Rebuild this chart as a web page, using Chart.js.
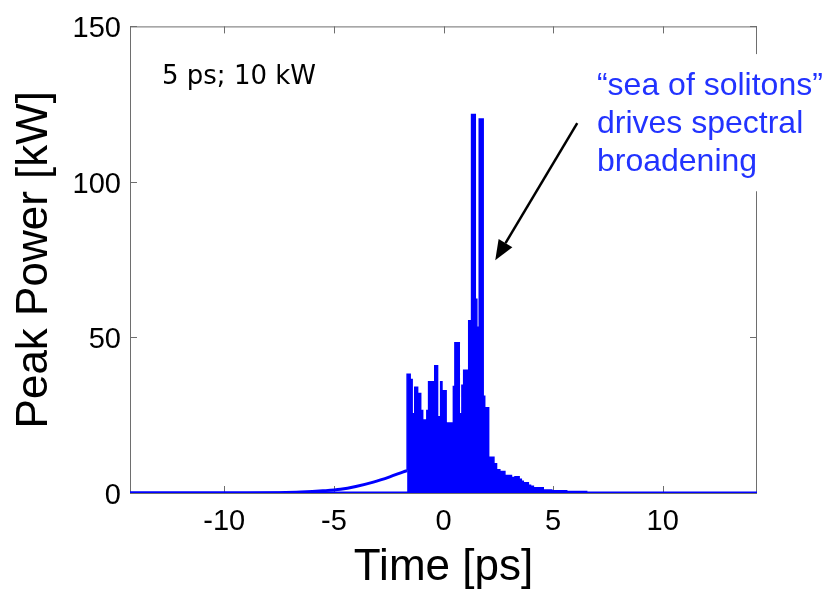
<!DOCTYPE html>
<html>
<head>
<meta charset="utf-8">
<script src="https://cdn.jsdelivr.net/npm/chart.js@4/dist/chart.umd.min.js"></script>
<style>
  html, body { margin: 0; padding: 0; background: #ffffff; }
  #wrap { width: 833px; height: 595px; }
</style>
</head>
<body>
<div id="wrap"><canvas id="c" width="833" height="595"></canvas></div>
<script>
// ---- data ----
const timeWindow = [-14.3, 14.3];          // ps
const xTickValues = [-10, -5, 0, 5, 10];
const yTickValues = [0, 50, 100, 150];

// smooth pedestal (remnant of the input pulse), kW
const pedestalTime  = [-14.3, -9.0, -7.5, -6.5, -5.5, -4.7, -4.0, -3.2, -2.45, -1.83, -1.66];
const pedestalPower = [0,      0,    0.1,  0.3,  0.7,  1.2,  2.1,  3.5,  5.2,   6.8,   7.2];

// upper envelope of the soliton burst (step-wise), kW
const burstTime  = [-1.66, -1.66, -1.52, -1.43, -1.31, -1.18, -1.04, -0.95, -0.76, -0.68, -0.40, -0.27, -0.13, -0.07, 0.12, 0.45, 0.52, 0.72, 0.84, 0.92, 1.15, 1.28, 1.45, 1.52, 1.63, 1.81, 1.88, 2.06, 2.30, 2.42, 2.57, 2.80, 3.10, 3.26, 3.45, 3.55, 3.64, 3.87, 3.97, 4.10, 4.55, 4.94, 5.62, 6.53, 7.40, 14.3];
const burstPower = [7.2,   25.0,  38.2,  36.5,  25.5,  34.0,  32.0,  26.5,  23.5,  26.5,  35.8,  40.9,  24.5,  35.8,  32.9, 22.5, 34.2, 48.3, 25.5, 34.6, 39.5, 55.4, 121.7, 62.3, 53.3, 120.2, 31.1, 27.4, 11.5, 9.4, 7.5, 6.9, 5.6, 5.0, 5.2, 4.4, 3.8, 3.3, 2.5, 2.2, 1.7, 1.0, 0.7, 0.5, 0, 0];

// zero level across the whole window
const zeroPower = [0, 0];

const toXY = (xs, ys) => xs.map((x, i) => ({ x: x, y: ys[i] }));

const BLUE = '#0000ff';
const AXIS_GREY = '#6e6e6e';
const TICK_FONT = { family: '"Liberation Sans", Arial, Helvetica, sans-serif', size: 29 };
const TITLE_FONT = { family: '"Liberation Sans", Arial, Helvetica, sans-serif', size: 44 };

const framePlugin = {
  id: 'frame',
  beforeDatasetsDraw(chart) {
    const { ctx, chartArea: a, scales: { x, y } } = chart;
    ctx.save();
    ctx.strokeStyle = AXIS_GREY;
    ctx.lineWidth = 1;
    ctx.strokeRect(a.left + 0.5, a.top + 0.5, a.right - a.left - 1, a.bottom - a.top);
    const tl = 7;
    ctx.beginPath();
    xTickValues.forEach(v => {
      const px = Math.round(x.getPixelForValue(v)) + 0.5;
      ctx.moveTo(px, a.bottom); ctx.lineTo(px, a.bottom - tl);
      ctx.moveTo(px, a.top); ctx.lineTo(px, a.top + tl);
    });
    yTickValues.forEach(v => {
      const py = Math.round(y.getPixelForValue(v)) + 0.5;
      ctx.moveTo(a.left, py); ctx.lineTo(a.left + tl, py);
      ctx.moveTo(a.right, py); ctx.lineTo(a.right - tl, py);
    });
    ctx.stroke();
    ctx.restore();
  }
};

const notePlugin = {
  id: 'notes',
  afterDraw(chart) {
    const { ctx, scales: { x, y } } = chart;
    ctx.save();
    // white text box of the overlaid note (hides part of the right frame)
    const bx0 = x.getPixelForValue(6.59), by0 = y.getPixelForValue(141.1), by1 = y.getPixelForValue(97.0);
    ctx.fillStyle = '#ffffff';
    ctx.fillRect(bx0, by0, chart.width - bx0, by1 - by0);

    // pulse parameters label
    ctx.fillStyle = '#000000';
    ctx.font = '26px "DejaVu Sans", sans-serif';
    ctx.textBaseline = 'alphabetic';
    ctx.textAlign = 'left';
    ctx.fillText('5 ps; 10 kW', x.getPixelForValue(-12.84), y.getPixelForValue(131.5));

    // blue note
    const lines = ['\u201Csea of solitons\u201D', 'drives spectral', 'broadening'];
    ctx.fillStyle = '#2233ff';
    ctx.font = '32px "Liberation Sans", Arial, sans-serif';
    const nx = x.getPixelForValue(7.0), ny = y.getPixelForValue(128.1);
    lines.forEach((s, i) => ctx.fillText(s, nx, ny + i * 38));

    // arrow
    const x0 = x.getPixelForValue(6.10), y0 = y.getPixelForValue(118.9);
    const x1 = x.getPixelForValue(2.36), y1 = y.getPixelForValue(74.8);
    const ang = Math.atan2(y1 - y0, x1 - x0);
    const headLen = 20, headHalf = 8;
    const bxh = x1 - headLen * Math.cos(ang), byh = y1 - headLen * Math.sin(ang);
    ctx.strokeStyle = '#000000';
    ctx.lineWidth = 2.5;
    ctx.beginPath(); ctx.moveTo(x0, y0); ctx.lineTo(bxh, byh); ctx.stroke();
    ctx.fillStyle = '#000000';
    ctx.beginPath();
    ctx.moveTo(x1, y1);
    ctx.lineTo(bxh + headHalf * Math.sin(ang), byh - headHalf * Math.cos(ang));
    ctx.lineTo(bxh - headHalf * Math.sin(ang), byh + headHalf * Math.cos(ang));
    ctx.closePath(); ctx.fill();
    ctx.restore();
  }
};

new Chart(document.getElementById('c'), {
  type: 'line',
  data: {
    datasets: [
      { label: 'zero', data: toXY(timeWindow, zeroPower), borderColor: BLUE, borderWidth: 3, pointRadius: 0, fill: false },
      { label: 'burst', data: toXY(burstTime, burstPower), borderColor: BLUE, backgroundColor: BLUE, borderWidth: 1.5, pointRadius: 0, stepped: 'after', fill: 'origin' },
      { label: 'pedestal', data: toXY(pedestalTime, pedestalPower), borderColor: BLUE, borderWidth: 3, pointRadius: 0, cubicInterpolationMode: 'monotone', fill: false }
    ]
  },
  options: {
    responsive: false,
    animation: false,
    devicePixelRatio: 1,
    layout: { padding: { left: 0, right: 76, top: 20, bottom: 0 } },
    plugins: { legend: { display: false }, tooltip: { enabled: false } },
    scales: {
      x: {
        type: 'linear', min: timeWindow[0], max: timeWindow[1],
        afterBuildTicks: s => { s.ticks = xTickValues.map(v => ({ value: v })); },
        afterFit: s => { s.height = 102; },
        grid: { display: false, drawTicks: false },
        border: { display: false },
        ticks: { font: TICK_FONT, color: '#000', padding: 12, maxRotation: 0, autoSkip: false },
        title: { display: true, text: 'Time [ps]', font: TITLE_FONT, color: '#000', padding: { top: 0, bottom: 1 } }
      },
      y: {
        type: 'linear', min: 0, max: 150,
        afterBuildTicks: s => { s.ticks = yTickValues.map(v => ({ value: v })); },
        afterFit: s => { s.width = 130; },
        grid: { display: false, drawTicks: false },
        border: { display: false },
        ticks: { font: TICK_FONT, color: '#000', padding: 9, labelOffset: 3 },
        title: { display: true, text: 'Peak Power [kW]', font: TITLE_FONT, color: '#000', padding: { top: 8, bottom: 0 } }
      }
    }
  },
  plugins: [framePlugin, notePlugin]
});
</script>
</body>
</html>
